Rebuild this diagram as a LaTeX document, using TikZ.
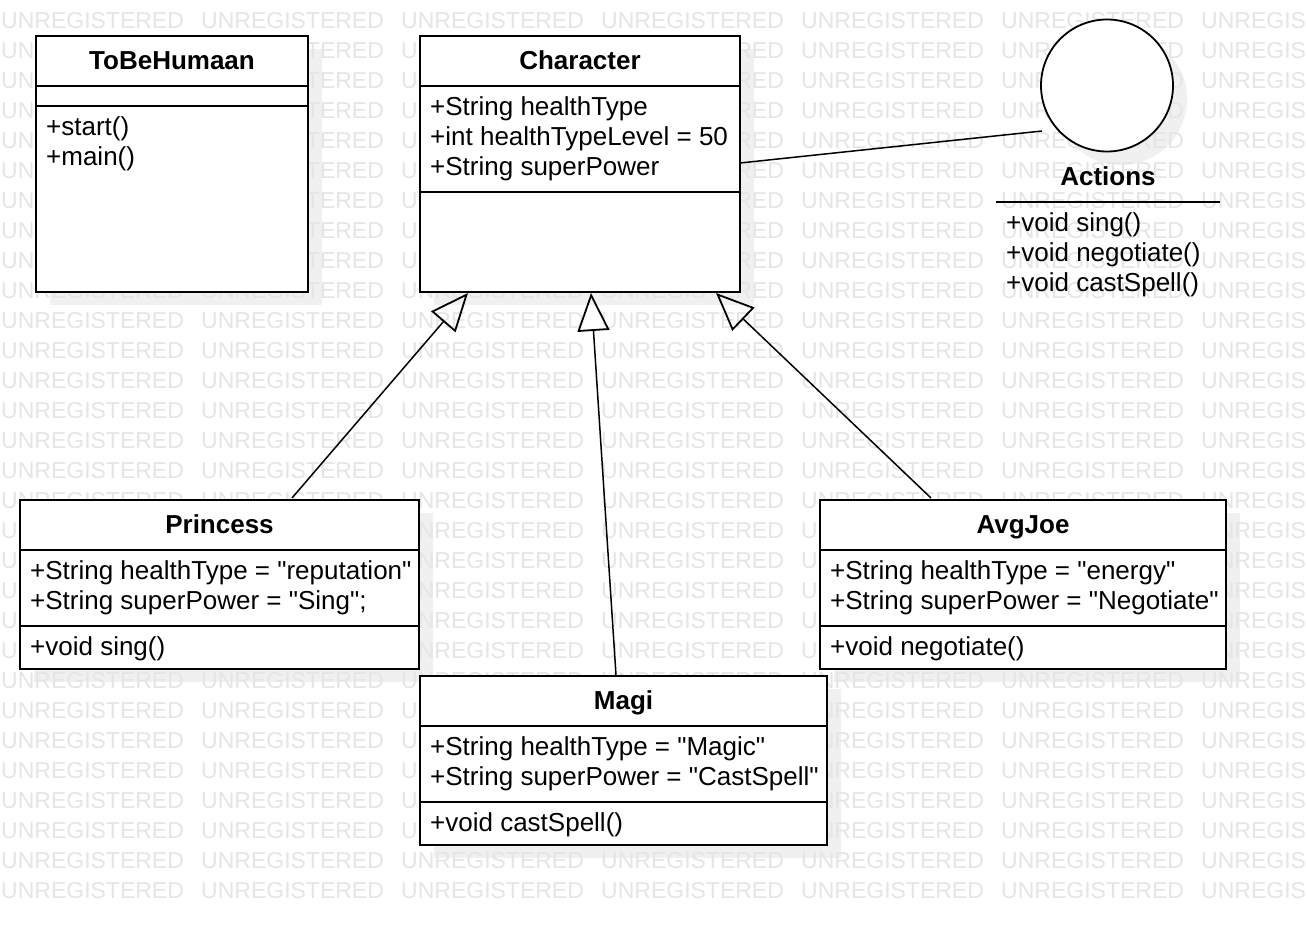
\documentclass[tikz,border=0pt]{standalone}
\usepackage{fontspec}
\setmainfont{Liberation Sans}[Ligatures=TeXOff]
\usetikzlibrary{arrows.meta,calc}
\definecolor{wmc}{RGB}{229,229,229}
\definecolor{shc}{RGB}{240,240,240}
\newcommand\fsz{\fontsize{26}{30}\selectfont}
\newcommand\wmsz{\fontsize{23}{23}\selectfont}
\tikzset{
  umlbox/.style={draw, line width=2pt, fill=white, rectangle, anchor=north west, inner sep=0pt, outer sep=0pt},
  shadowbox/.style={fill=shc, draw=none},
  sepline/.style={line width=2pt},
  txt/.style={anchor=base west, inner sep=0pt, font=\fsz},
  ttl/.style={anchor=base, inner sep=0pt, font=\fsz\bfseries},
  wm/.style={anchor=base west, inner sep=0pt, font=\wmsz, text=wmc},
  inh/.style={-{Triangle[open, length=38pt, width=32pt, line width=1.8pt]}, line width=1.5pt},
  assoc/.style={line width=1.5pt},
}
\begin{document}
\begin{tikzpicture}[x=1pt,y=-1pt]
\useasboundingbox (0,0) rectangle (1306,926);
\fill[white] (0,0) rectangle (1306,926);
% shadows
\fill[shadowbox] (50,49) rectangle (322,305);
\fill[shadowbox] (434,49) rectangle (754,305);
\fill[shadowbox] (1121,99) circle (66);
\fill[shadowbox] (34,513) rectangle (433,682);
\fill[shadowbox] (834,513) rectangle (1240,682);
\fill[shadowbox] (434,689) rectangle (841,858);
% watermark
\foreach \r in {0,...,29} {
  \foreach \c in {0,...,6} {
    \node[wm] at (\c*200+1, 28+\r*30) {UNREGISTERED};
  }
}
% boxes
\node[umlbox, minimum width=272pt, minimum height=256pt] (tb) at (36,36) {};
\node[umlbox, minimum width=320pt, minimum height=256pt] (ch) at (420,36) {};
\node[umlbox, minimum width=399pt, minimum height=169pt] (pr) at (20,500) {};
\node[umlbox, minimum width=406pt, minimum height=169pt] (aj) at (820,500) {};
\node[umlbox, minimum width=407pt, minimum height=169pt] (mg) at (420,676) {};
\node[draw, fill=white, circle, line width=1.8pt, minimum size=132pt, inner sep=0pt, outer sep=0pt] (act) at (1107,85.5) {};
% compartments
\draw[sepline] ($(tb.north west)+(0,50)$) -- ($(tb.north east)+(0,50)$);
\draw[sepline] ($(tb.north west)+(0,70)$) -- ($(tb.north east)+(0,70)$);
\draw[sepline] ($(ch.north west)+(0,50)$) -- ($(ch.north east)+(0,50)$);
\draw[sepline] ($(ch.north west)+(0,156)$) -- ($(ch.north east)+(0,156)$);
\draw[sepline] ($(pr.north west)+(0,50)$) -- ($(pr.north east)+(0,50)$);
\draw[sepline] ($(pr.north west)+(0,126)$) -- ($(pr.north east)+(0,126)$);
\draw[sepline] ($(aj.north west)+(0,50)$) -- ($(aj.north east)+(0,50)$);
\draw[sepline] ($(aj.north west)+(0,126)$) -- ($(aj.north east)+(0,126)$);
\draw[sepline] ($(mg.north west)+(0,50)$) -- ($(mg.north east)+(0,50)$);
\draw[sepline] ($(mg.north west)+(0,126)$) -- ($(mg.north east)+(0,126)$);
% texts
\node[ttl] (tbt) at (172,69) {ToBeHumaan};
\node[txt] (tbm1) at (46,135.5) {+start()};
\node[txt] (tbm2) at (46,165.5) {+main()};
\node[ttl] (cht) at (580,69) {Character};
\node[txt] (cha1) at (430,115.5) {+String healthType};
\node[txt] (cha2) at (430,145.5) {+int healthTypeLevel = 50};
\node[txt] (cha3) at (430,175.5) {+String superPower};
\node[ttl] (prt) at (219.5,533) {Princess};
\node[txt] (pra1) at (30,579.5) {+String healthType = "reputation"};
\node[txt] (pra2) at (30,609.5) {+String superPower = "Sing";};
\node[txt] (prm1) at (30,655.5) {+void sing()};
\node[ttl] (ajt) at (1023,533) {AvgJoe};
\node[txt] (aja1) at (830,579.5) {+String healthType = "energy"};
\node[txt] (aja2) at (830,609.5) {+String superPower = "Negotiate"};
\node[txt] (ajm1) at (830,655.5) {+void negotiate()};
\node[ttl] (mgt) at (623.5,709) {Magi};
\node[txt] (mga1) at (430,755.5) {+String healthType = "Magic"};
\node[txt] (mga2) at (430,785.5) {+String superPower = "CastSpell"};
\node[txt] (mgm1) at (430,831.5) {+void castSpell()};
\node[ttl] (actt) at (1108,185) {Actions};
\draw[sepline] (996,202) -- (1220,202);
\node[txt] (acm1) at (1006,231.5) {+void sing()};
\node[txt] (acm2) at (1006,261.5) {+void negotiate()};
\node[txt] (acm3) at (1006,291.5) {+void castSpell()};
% connectors
\coordinate (actend) at (1042,131);
\draw[assoc] ($(ch.north east)+(0,127)$) -- (actend);
\draw[inh] ($(pr.north west)+(272,-2)$) -- ($(ch.south west)+(48,1)$);
\draw[inh] ($(mg.north west)+(196,-1)$) -- ($(ch.south west)+(171,1)$);
\draw[inh] ($(aj.north west)+(111,-2)$) -- ($(ch.south west)+(296,1)$);
\end{tikzpicture}
\end{document}
